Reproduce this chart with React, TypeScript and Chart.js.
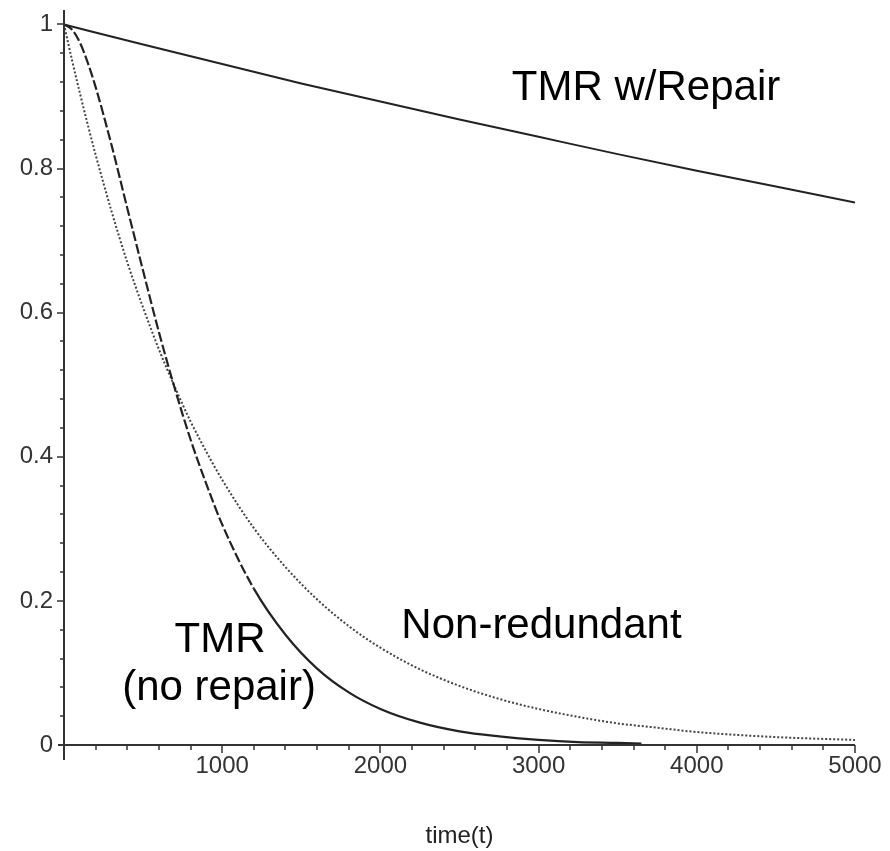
import React, { useEffect, useRef } from "react";
import { Chart, registerables } from "chart.js";

Chart.register(...registerables);

// ---- data ----
const TIME_NR = [0, 50, 100, 150, 200, 300, 400, 500, 600, 700, 800, 900, 1000, 1200, 1400, 1600, 1800, 2000, 2250, 2500, 2750, 3000, 3250, 3500, 3750, 4000, 4500, 5000];
const NON_REDUNDANT = [1, 0.951, 0.905, 0.861, 0.819, 0.741, 0.67, 0.607, 0.549, 0.497, 0.449, 0.407, 0.368, 0.301, 0.247, 0.202, 0.165, 0.135, 0.105, 0.082, 0.064, 0.05, 0.039, 0.03, 0.024, 0.018, 0.011, 0.007];

const TIME_TMR = [0, 50, 100, 150, 200, 300, 400, 500, 600, 700, 800, 900, 1000, 1200, 1400, 1600, 1800, 2000, 2250, 2500, 2750, 3000, 3250, 3500, 3650];
const TMR_NO_REPAIR = [1, 0.993, 0.975, 0.947, 0.913, 0.833, 0.745, 0.658, 0.573, 0.495, 0.424, 0.362, 0.306, 0.217, 0.153, 0.106, 0.073, 0.05, 0.031, 0.019, 0.012, 0.007, 0.004, 0.003, 0.002];

const TIME_REPAIR = [0, 500, 1000, 1500, 2000, 2500, 3000, 3500, 4000, 4500, 5000];
const TMR_REPAIR = [1, 0.972, 0.945, 0.918, 0.893, 0.868, 0.844, 0.82, 0.797, 0.775, 0.753];

const X_MAJOR = 1000;
const X_STEP = 200;
const Y_MAJOR = 0.2;
const Y_STEP = 0.04;
const X_TITLE = "time(t)";

const ANNOT_TEXT = ["TMR w/Repair", "Non-redundant", "TMR", "(no repair)"];
const ANNOT_T = [3679, 3018, 986, 980];
const ANNOT_V = [0.895, 0.1485, 0.129, 0.0624];

const FONT = "'Liberation Sans', Arial, Helvetica, sans-serif";

const pts = (xs: number[], ys: number[]) => xs.map((x, i) => ({ x, y: ys[i] }));

const isMult = (v: number, m: number) => Math.abs(v / m - Math.round(v / m)) < 1e-6;

const mapleAxes = {
  id: "mapleAxes",
  afterDatasetsDraw(chart: any) {
    const { ctx, scales } = chart;
    const xs = scales.x;
    const ys = scales.y;
    const x0 = Math.round(xs.getPixelForValue(0));
    const y0 = Math.round(ys.getPixelForValue(0));
    ctx.save();
    ctx.strokeStyle = "#333";
    ctx.lineWidth = 2;
    ctx.beginPath();
    ctx.moveTo(x0, chart.chartArea.top);
    ctx.lineTo(x0, y0 + 15);
    ctx.moveTo(x0 - 6, y0);
    ctx.lineTo(xs.getPixelForValue(xs.max), y0);
    ctx.stroke();
    ctx.lineWidth = 1.5;
    ctx.beginPath();
    xs.ticks.forEach((t: any) => {
      if (t.value === 0) return;
      const px = Math.round(xs.getPixelForValue(t.value));
      const major = isMult(t.value, X_MAJOR);
      ctx.moveTo(px, y0);
      ctx.lineTo(px, y0 + (major ? 8 : 5));
    });
    ys.ticks.forEach((t: any) => {
      if (t.value === 0) return;
      const py = Math.round(ys.getPixelForValue(t.value));
      const major = isMult(t.value, Y_MAJOR);
      ctx.moveTo(x0, py);
      ctx.lineTo(x0 - (major ? 7 : 4), py);
    });
    ctx.stroke();
    // annotations
    ctx.fillStyle = "#000";
    ctx.font = `42px ${FONT}`;
    ctx.textAlign = "center";
    ctx.textBaseline = "alphabetic";
    ANNOT_TEXT.forEach((txt, i) => {
      ctx.fillText(txt, xs.getPixelForValue(ANNOT_T[i]), ys.getPixelForValue(ANNOT_V[i]));
    });
    ctx.restore();
  },
};

export default function App() {
  const ref = useRef<HTMLCanvasElement | null>(null);
  useEffect(() => {
    if (!ref.current) return;
    const chart = new Chart(ref.current, {
      type: "line",
      data: {
        datasets: [
          {
            label: "TMR w/Repair",
            data: pts(TIME_REPAIR, TMR_REPAIR),
            borderColor: "#222",
            borderWidth: 2,
            pointRadius: 0,
            cubicInterpolationMode: "monotone",
          },
          {
            label: "TMR (no repair)",
            data: pts(TIME_TMR, TMR_NO_REPAIR),
            borderColor: "#222",
            borderWidth: 2.2,
            pointRadius: 0,
            cubicInterpolationMode: "monotone",
            segment: {
              borderDash: (c: any) => (c.p0.parsed.x < 1200 ? [10, 3] : []),
            },
          },
          {
            label: "Non-redundant",
            data: pts(TIME_NR, NON_REDUNDANT),
            borderColor: "#444",
            borderWidth: 2,
            borderDash: [2, 2],
            pointRadius: 0,
            cubicInterpolationMode: "monotone",
          },
        ],
      },
      options: {
        responsive: false,
        animation: false,
        events: [],
        layout: { padding: { left: 0, right: 35, top: 10, bottom: 0 } },
        plugins: { legend: { display: false }, tooltip: { enabled: false } },
        scales: {
          x: {
            type: "linear",
            min: 0,
            max: 5000,
            grid: { display: false, drawTicks: false },
            border: { display: false },
            ticks: {
              stepSize: X_STEP,
              autoSkip: false,
              includeBounds: false,
              maxRotation: 0,
              padding: 7,
              color: "#333",
              font: { family: FONT, size: 24 },
              callback: (v: any) => (v !== 0 && isMult(Number(v), X_MAJOR) ? String(v) : ""),
            },
            title: {
              display: true,
              text: X_TITLE,
              color: "#222",
              font: { family: FONT, size: 24 },
              padding: 0,
            },
            afterFit: (s: any) => {
              s.height = 106;
              s.paddingLeft = 0;
              s.paddingRight = 0;
            },
          },
          y: {
            type: "linear",
            min: 0,
            max: 1.02,
            grid: { display: false, drawTicks: false },
            border: { display: false },
            afterBuildTicks: (s: any) => {
              s.ticks = s.ticks.filter((t: any) => t.value <= 1.0001);
            },
            ticks: {
              stepSize: Y_STEP,
              autoSkip: false,
              includeBounds: false,
              padding: 11,
              color: "#333",
              font: { family: FONT, size: 24 },
              callback: (v: any) => {
                const n = Number(v);
                return isMult(n, Y_MAJOR) ? String(Math.round(n * 5) / 5) : "";
              },
            },
            afterFit: (s: any) => {
              s.width = 64;
              s.paddingTop = 0;
              s.paddingBottom = 0;
            },
          },
        },
      },
      plugins: [mapleAxes],
    } as any);
    return () => chart.destroy();
  }, []);
  return (
    <div style={{ position: "absolute", left: 0, top: 0, width: 890, height: 851, background: "#fff" }}>
      <canvas ref={ref} width={890} height={851} />
    </div>
  );
}
